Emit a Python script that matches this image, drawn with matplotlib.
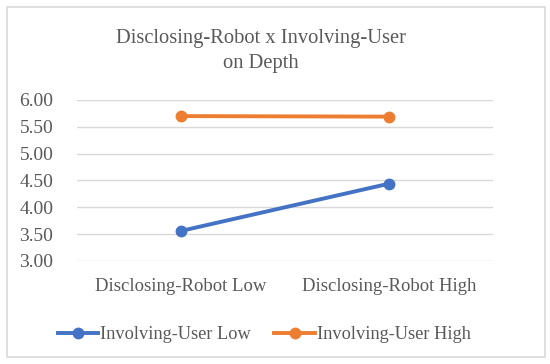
import matplotlib
matplotlib.use("Agg")
import matplotlib.pyplot as plt
from matplotlib.patches import Rectangle

# Data
categories = ["Disclosing-Robot Low", "Disclosing-Robot High"]
user_low = [3.56, 4.44]
user_high = [5.70, 5.69]
series_names = ["Involving-User Low", "Involving-User High"]

plt.rcParams['font.family'] = ['Liberation Serif', 'DejaVu Serif']
text_color = "#595959"

fig = plt.figure(figsize=(5.5, 3.64), dpi=100)
ax = fig.add_axes([0.14, 0.283, 0.756, 0.4423])

x = range(len(categories))
ax.plot(x, user_low, color="#4472C4", lw=2.8, marker="o", ms=7.5, label=series_names[0])
ax.plot(x, user_high, color="#ED7D31", lw=2.8, marker="o", ms=7.5, label=series_names[1])

ax.set_xlim(-0.5, 1.5)
ax.set_ylim(3.0, 6.0)
ax.set_yticks([3.0, 3.5, 4.0, 4.5, 5.0, 5.5, 6.0])
ax.set_yticklabels([f"{v:.2f}" for v in ax.get_yticks()], fontsize=14, color=text_color)
ax.set_xticks(list(x))
ax.set_xticklabels(categories, fontsize=13.5, color=text_color)
ax.tick_params(length=0)
ax.tick_params(axis="y", pad=17)
ax.tick_params(axis="x", pad=12)
ax.grid(axis="y", color="#D9D9D9", lw=1)
ax.set_axisbelow(True)
for s in ax.spines.values():
    s.set_visible(False)

fig.text(0.475, 0.86, "Disclosing-Robot x Involving-User\non Depth", ha="center", va="center",
         fontsize=14.8, color=text_color, linespacing=1.38)

fig.legend(loc="center", bbox_to_anchor=(0.48, 0.08), ncol=2, frameon=False,
           fontsize=13.2, handlelength=2.2, handletextpad=0.1, columnspacing=1.3,
           labelcolor=text_color)

# Outer border like the original chart box
fig.patches.append(Rectangle((0.013, 0.019), 0.978, 0.962, transform=fig.transFigure,
                             fill=False, edgecolor="#D9D9D9", lw=1.2))

fig.savefig("out.png", dpi=100)
